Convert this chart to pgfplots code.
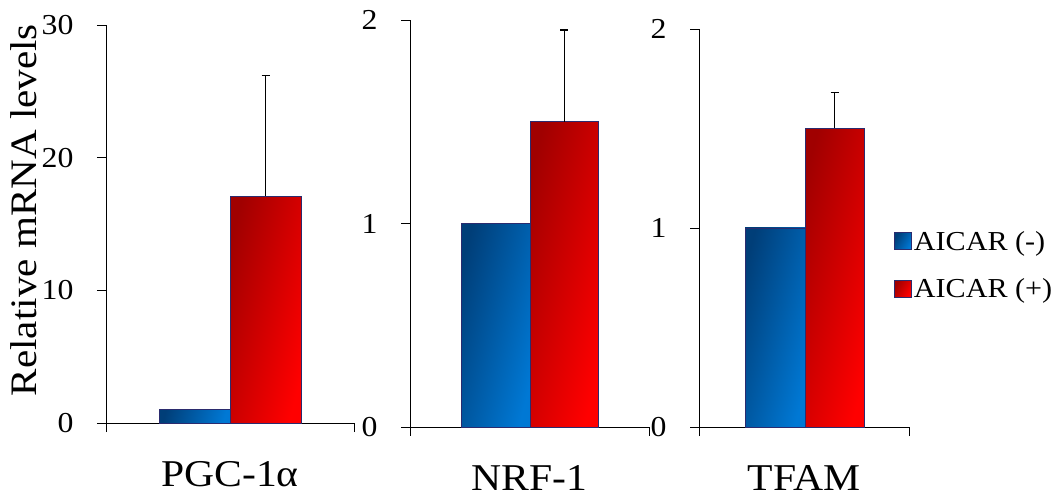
\documentclass[border=0pt]{standalone}
\usepackage{fontspec}
\setmainfont[FakeStretch=1.1]{Liberation Serif}
\usepackage{pgfplots}
\pgfplotsset{compat=1.18}
\definecolor{bdark}{HTML}{003E78}
\definecolor{bbright}{HTML}{0078D4}
\definecolor{rdark}{HTML}{A00000}
\definecolor{rbright}{HTML}{FF0000}
\definecolor{edge}{HTML}{2B2B6E}
\pgfplotsset{
  panel/.style={
    scale only axis, anchor=south west,
    axis x line=bottom, axis y line=left,
    axis line style={-, black, line width=0.9bp},
    ymin=0, xmin=0,
    tick align=outside,
    major tick length=9bp,
    tick style={black, line width=0.9bp},
    xticklabels={},
    /pgf/number format/assume math mode=true,
    yticklabel style={font=\fontsize{29}{32}\selectfont, xshift=-20bp},
    xlabel style={font=\fontsize{38}{44}\selectfont, at={(axis description cs:0.5,0)}, anchor=base, yshift=-63bp},
    clip=false,
  },
  negbar/.style={ybar, bar shift=0pt, draw=edge, line width=0.8bp,
    top color=bdark, bottom color=bbright, shading angle=75,
    legend image code/.code={\draw[draw=edge, line width=0.8bp, top color=bdark, bottom color=bbright, shading angle=60] (-6bp,-8.5bp) rectangle (11bp,8.5bp);}},
  posbar/.style={ybar, bar shift=0pt, draw=edge, line width=0.8bp,
    top color=rdark, bottom color=rbright, shading angle=75,
    legend image code/.code={\draw[draw=edge, line width=0.8bp, top color=rdark, bottom color=rbright, shading angle=60] (-6bp,-8.5bp) rectangle (11bp,8.5bp);},
    error bars/y dir=plus, error bars/y explicit,
    error bars/error bar style={black, line width=0.9bp},
    error bars/error mark options={rotate=90, mark size=4bp, line width=1.5bp, black}},
}
\begin{document}
\begin{tikzpicture}
% Panel 1
\begin{axis}[panel, at={(106bp,74bp)}, width=248bp, height=398bp,
  xmax=248, ymax=30, ytick={0,10,20,30}, xtick={0,248},
  xlabel={PGC-1α},
  ylabel={Relative mRNA levels},
  ylabel style={font=\fontsize{37.5}{42}\selectfont, at={(axis description cs:-0.331,0.535)}, anchor=center, rotate=0}]
\addplot[negbar, bar width=71] coordinates {(88.5,1)};
\addplot[posbar, bar width=71] coordinates {(159.5,17.1) +- (0,9.1)};
\end{axis}
% Panel 2
\begin{axis}[panel, at={(410bp,70bp)}, width=239bp, height=407bp,
  xmax=239, ymax=2, ytick={0,1,2}, xtick={0,239},
  xlabel={NRF-1}]
\addplot[negbar, bar width=69] coordinates {(85.5,1)};
\addplot[posbar, bar width=68] coordinates {(154,1.5) +- (0,0.45)};
\end{axis}
% Panel 3
\begin{axis}[panel, at={(699bp,70bp)}, width=210bp, height=398bp,
  xmax=210, ymax=2, ytick={0,1,2}, xtick={0,210},
  xlabel={TFAM},
  legend style={at={(axis description cs:0.928,0.407)}, anchor=west, draw=none, fill=none,
    font=\fontsize{27.5}{31}\selectfont, row sep=23bp, inner xsep=0pt},
  legend cell align=left]
\addplot[negbar, bar width=60] coordinates {(76,1)};
\addlegendentry{AICAR (-)}
\addplot[posbar, bar width=59] coordinates {(135.5,1.5) +- (0,0.18)};
\addlegendentry{AICAR (+)}
\end{axis}
\pgfresetboundingbox
\path (0,0) rectangle (1052bp,497bp);
\end{tikzpicture}
\end{document}
